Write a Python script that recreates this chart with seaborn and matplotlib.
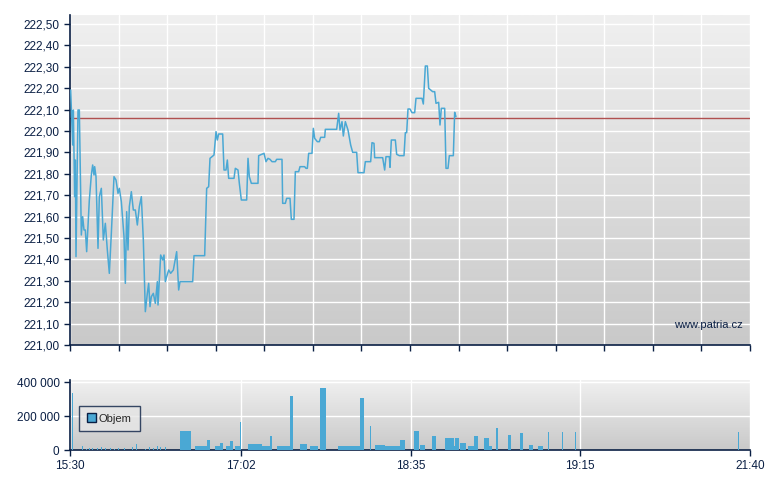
import numpy as np
import pandas as pd
import matplotlib
matplotlib.use("Agg")
import matplotlib.pyplot as plt
import seaborn as sns
from matplotlib.patches import Patch

sns.set_theme(style="white")
plt.rcParams['font.family'] = ['Liberation Sans', 'DejaVu Sans']

# time axis: index units 0..680 (non-linear session clock)
tick_pos = [0, 171, 341, 510, 680]
tick_labels = ["15:30", "17:02", "18:35", "19:15", "21:40"]

# price trace (zoomed coords -> converted below)
zx = [32, 38, 40, 44, 46, 48, 54, 58, 64, 68, 72, 76, 80, 84, 88, 94, 98, 102, 104, 108, 114, 118, 124, 130, 136, 142, 148, 154, 162, 168, 174, 178, 184, 192, 196, 200, 204, 208, 214, 220, 226, 232, 238, 244, 250, 256, 262, 266, 270, 274, 280, 286, 292, 294, 302, 308, 312, 316, 320, 326, 332, 340, 350, 356, 360, 398, 402, 434, 440, 446, 450, 462, 468, 472, 476, 488, 492, 498, 502, 506, 522, 526, 534, 538, 544, 560, 564, 568, 574, 594, 596, 612, 618, 624, 630, 636, 646, 650, 666, 668, 676, 680, 690, 694, 702, 706, 716, 720, 734, 738, 742, 746, 756, 760, 764, 772, 778, 782, 794, 796, 830, 836, 840, 846, 850, 856, 864, 872, 878, 890, 894, 912, 916, 932, 936, 942, 944, 968, 974, 978, 988, 990, 994, 1006, 1010, 1018, 1032, 1036, 1040, 1044, 1050, 1056, 1064, 1068, 1086, 1090, 1096, 1102, 1106, 1118, 1124, 1128, 1136, 1140, 1144, 1154, 1158, 1164, 1168, 1180, 1184, 1188]
zy = [90, 255, 150, 410, 300, 590, 150, 150, 525, 470, 510, 510, 575, 500, 420, 345, 315, 345, 320, 350, 565, 410, 385, 540, 490, 570, 640, 520, 350, 360, 400, 385, 425, 530, 670, 455, 570, 440, 395, 450, 450, 495, 440, 410, 540, 755, 700, 670, 740, 710, 700, 730, 665, 735, 585, 600, 585, 665, 650, 630, 640, 630, 575, 690, 665, 665, 587, 587, 385, 380, 295, 285, 215, 240, 222, 222, 330, 330, 300, 355, 355, 325, 330, 370, 420, 420, 295, 350, 370, 370, 287, 280, 305, 295, 298, 305, 305, 298, 298, 430, 430, 415, 415, 478, 478, 335, 335, 320, 320, 325, 325, 280, 280, 205, 235, 245, 245, 232, 232, 208, 208, 160, 210, 185, 228, 185, 210, 255, 277, 277, 338, 338, 305, 305, 248, 250, 293, 293, 330, 290, 290, 322, 240, 240, 283, 287, 287, 218, 218, 147, 147, 158, 158, 115, 115, 132, 18, 18, 85, 95, 95, 130, 127, 195, 145, 145, 325, 325, 287, 287, 157, 170]
t_price = [60 + a / 3 - 70 for a in zx]
price = [221 + (345 - (60 + b / 3)) / 214.0 for b in zy]
ref_price = 222.06

# volume bars (time, value, width)
vol_t = [2, 12, 16, 19, 22, 27, 31, 35, 40, 44, 48, 54, 62, 66, 75, 79, 83, 87, 90, 95]
vol_v = [337000, 22000, 8000, 10000, 12000, 9000, 15000, 10000, 12000, 8000, 10000, 12000, 15000, 33000, 8000, 20000, 12000, 25000, 18000, 20000]
vol_w = [1] * len(vol_t)
vol_t += [110, 125, 137, 145, 150, 156, 160, 165, 170, 178, 183, 188, 200, 207, 214, 220, 230, 240, 250, 268, 278, 285, 290, 300, 305, 310, 322, 330, 344, 350, 362, 375, 380, 385, 390, 398, 404, 414, 418, 426, 438, 450, 459, 468, 478, 492, 505, 668]
vol_v += [111000, 25000, 59000, 25000, 43000, 25000, 55000, 25000, 166000, 35000, 25000, 25000, 84000, 25000, 25000, 316000, 35000, 25000, 365000, 25000, 25000, 25000, 306000, 140000, 30000, 25000, 25000, 58000, 111000, 30000, 84000, 72000, 25000, 72000, 40000, 25000, 84000, 72000, 25000, 130000, 90000, 101000, 30000, 25000, 107000, 107000, 107000, 107000]
vol_w += [11, 15, 3, 7, 3, 5, 3, 5, 1, 14, 5, 12, 2, 7, 6, 3, 7, 8, 6, 18, 9, 5, 4, 1, 10, 12, 12, 5, 5, 5, 4, 9, 5, 4, 6, 8, 4, 5, 4, 2, 3, 3, 4, 5, 1, 1, 1, 1]

W, H = 780, 490
fig = plt.figure(figsize=(W / 100, H / 100), dpi=100)
fig.patch.set_facecolor("white")
L, R = 70 / W, 750 / W
ax = fig.add_axes([L, 1 - 345 / H, R - L, (345 - 15) / H])
axv = fig.add_axes([L, 1 - 450 / H, R - L, (450 - 380) / H])

grad = np.linspace(0, 1, 256).reshape(-1, 1)
cmap = matplotlib.colors.LinearSegmentedColormap.from_list("g", ["#f0f0f0", "#c9c9c9"])
for a in (ax, axv):
    a.imshow(grad, aspect="auto", cmap=cmap, extent=[0, 1, 0, 1],
             transform=a.transAxes, zorder=0)
    a.set_xlim(0, 680)
    for s in ("top", "right"):
        a.spines[s].set_visible(False)
    for s in ("left", "bottom"):
        a.spines[s].set_color("#0a1f44")
        a.spines[s].set_linewidth(1.2)
    a.tick_params(colors="#0a1f44", labelsize=8.5, length=4, direction="out",
                  left=True, bottom=True, width=1)

# price panel
ax.set_ylim(221.0, 222.5 + 9 / 214)
yt = np.round(np.arange(221.0, 222.51, 0.1), 2)
ax.set_yticks(yt)
ax.set_yticklabels([f"{v:.2f}".replace(".", ",") for v in yt])
ax.set_xticks(np.linspace(0, 680, 15))
ax.set_xticklabels([])
ax.grid(True, color="white", linewidth=1)
for gl in ax.get_xgridlines() + ax.get_ygridlines():
    gl.set_zorder(1)
ax.axhline(ref_price, color="#b05050", linewidth=1, zorder=2)
sns.lineplot(x=t_price, y=price, ax=ax, sort=False, color="#4aa8d4",
             linewidth=1.1, zorder=3)
ax.text(673, 221.08, "www.patria.cz", fontsize=8, color="#0a1f44", ha="right")

# volume panel
axv.set_ylim(0, 400000 * 70 / 68)
axv.set_yticks([0, 200000, 400000])
axv.set_yticklabels(["0", "200 000", "400 000"])
axv.set_xticks(tick_pos)
axv.set_xticklabels(tick_labels)
axv.grid(True, color="white", linewidth=1)
for gl in axv.get_xgridlines() + axv.get_ygridlines():
    gl.set_zorder(1)
vol = pd.DataFrame({"t": vol_t, "v": vol_v, "w": vol_w})
axv.bar(vol["t"], vol["v"], width=vol["w"], align="edge", color="#4aa8d4",
        edgecolor="none", zorder=3)
leg = axv.legend(handles=[Patch(facecolor="#4aa8d4", edgecolor="#0a1f44", label="Objem")],
                 loc="center left", bbox_to_anchor=(0.005, 0.45), fontsize=8,
                 frameon=True, fancybox=False, handlelength=0.8, handleheight=0.8,
                 handletextpad=0.3, borderpad=0.7)
leg.get_frame().set_edgecolor("#0a1f44")
leg.get_frame().set_facecolor("#e6e6e6")

fig.savefig("out.png", dpi=100)
